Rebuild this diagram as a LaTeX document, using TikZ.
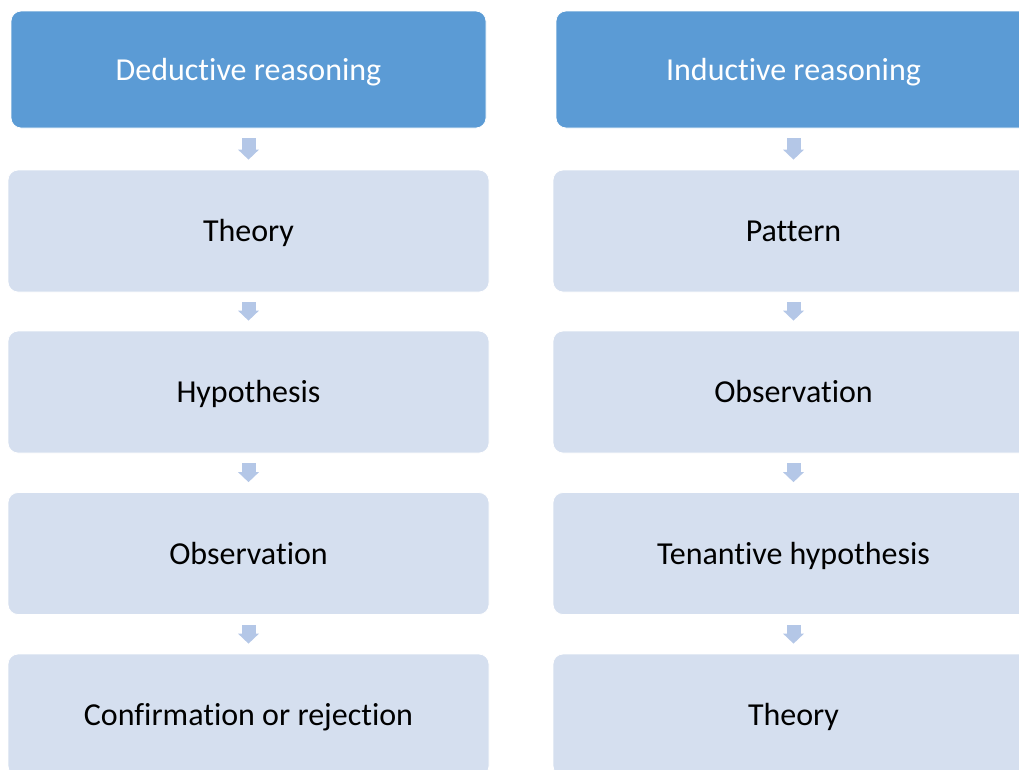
\documentclass[tikz,border=0pt]{standalone}
\usepackage{fontspec}
\setmainfont{Carlito}[Ligatures=NoCommon]
\usetikzlibrary{arrows.meta}
\definecolor{headblue}{HTML}{5B9BD5}
\definecolor{stepfill}{HTML}{D5DFEF}
\definecolor{flowarrow}{HTML}{B4C7E7}
\tikzset{
  boxtext/.style={font=\fontsize{24}{28}\selectfont, text height=18pt, text depth=2.2pt},
  headbox/.style={rectangle, rounded corners=7.5pt, fill=headblue, draw=white, line width=0.6pt,
    minimum width=356.25pt, minimum height=87.75pt, text=white, boxtext},
  stepbox/.style={rectangle, rounded corners=7.5pt, fill=stepfill, draw=white, line width=0.6pt,
    minimum width=360.75pt, minimum height=91.5pt, text=black, boxtext},
  flow/.style={draw=flowarrow, line width=10.5pt, line cap=butt,
    -{Triangle[width=15.75pt,length=7.5pt,line width=0pt]},
    shorten <=7.5pt, shorten >=7.5pt}
}
\begin{document}
\begin{tikzpicture}[x=0.75pt,y=-0.75pt]
\useasboundingbox (0,0) rectangle (1019,769);
% deductive column
\node[headbox] (d0) at (248.5,69.5) {Deductive reasoning};
\node[stepbox] (d1) at (248.5,231) {Theory};
\node[stepbox] (d2) at (248.5,392) {Hypothesis};
\node[stepbox] (d3) at (248.5,553.5) {Observation};
\node[stepbox] (d4) at (248.5,715) {Confirmation or rejection};
% inductive column
\node[headbox] (i0) at (793.5,69.5) {Inductive reasoning};
\node[stepbox] (i1) at (793.5,231) {Pattern};
\node[stepbox] (i2) at (793.5,392) {Observation};
\node[stepbox] (i3) at (793.5,553.5) {Tenantive hypothesis};
\node[stepbox] (i4) at (793.5,715) {Theory};
% block arrows between steps
\foreach \c in {d,i}{
  \draw[flow] (\c0.south) -- (\c1.north);
  \draw[flow] (\c1.south) -- (\c2.north);
  \draw[flow] (\c2.south) -- (\c3.north);
  \draw[flow] (\c3.south) -- (\c4.north);
}
\end{tikzpicture}
\end{document}
